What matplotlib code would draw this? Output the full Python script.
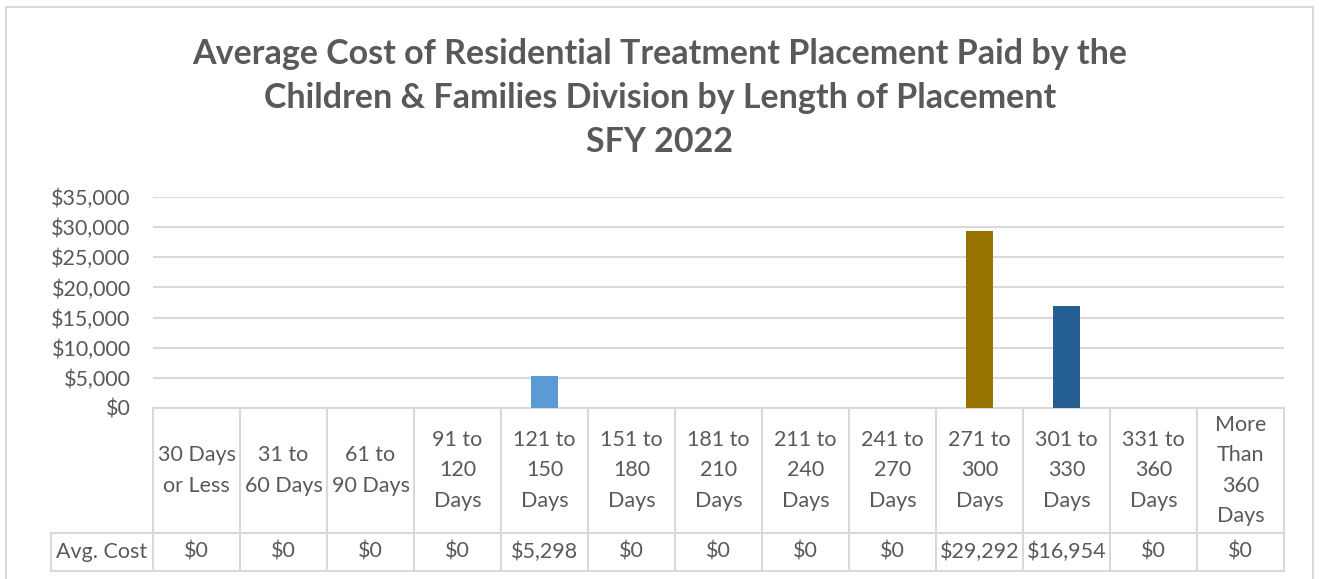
import numpy as np
import matplotlib
matplotlib.use('Agg')
import matplotlib.pyplot as plt
from matplotlib.patches import Rectangle

plt.rcParams['font.family'] = ['Lato', 'DejaVu Sans']

categories = ['30 Days\nor Less', '31 to\n60 Days', '61 to\n90 Days', '91 to\n120\nDays',
              '121 to\n150\nDays', '151 to\n180\nDays', '181 to\n210\nDays', '211 to\n240\nDays',
              '241 to\n270\nDays', '271 to\n300\nDays', '301 to\n330\nDays', '331 to\n360\nDays',
              'More\nThan\n360\nDays']
avg_cost = [0, 0, 0, 0, 5298, 0, 0, 0, 0, 29292, 16954, 0, 0]
bar_colors = ['#5B9BD5'] * 9 + ['#997300', '#255E91', '#5B9BD5', '#5B9BD5']
yticks = [0, 5000, 10000, 15000, 20000, 25000, 30000, 35000]

W, H = 1319, 579
fig = plt.figure(figsize=(W / 100, H / 100), dpi=100)
txt = '#595959'
grid = '#D9D9D9'
fs = 15.5

# outer chart border
fig.patches.append(Rectangle((6 / W, -0.01), (1313 - 6) / W, (H - 7) / H + 0.01,
                             transform=fig.transFigure, fill=False, edgecolor=grid, lw=1.5))

# plot area in pixels
x0, x1 = 153, 1284
y0, y1 = 408, 197
ax = fig.add_axes([x0 / W, (H - y0) / H, (x1 - x0) / W, (y0 - y1) / H])

x = np.arange(len(categories))
ax.bar(x, avg_cost, width=0.31, color=bar_colors, zorder=3)
ax.set_xlim(-0.5, len(categories) - 0.5)
ax.set_ylim(0, 35000)
ax.set_yticks(yticks)
ax.set_yticklabels(['${:,.0f}'.format(v) for v in yticks], color=txt, fontsize=fs)
ax.tick_params(axis='y', length=0, pad=16)
ax.set_xticks([])
for s in ax.spines.values():
    s.set_visible(False)
ax.yaxis.grid(True, color=grid, lw=1.5, zorder=0)
ax.set_axisbelow(True)

# data table under the axis
ph = y0 - y1
r_hdr = -(533 - 408) / ph
r_val = -(571 - 408) / ph
left = -0.5 - (x0 - 51) / 87.0
tr = ax.get_xaxis_transform()
lk = dict(color=grid, lw=1.5, clip_on=False, transform=tr)
ax.plot([-0.5, len(categories) - 0.5], [0, 0], **lk)
ax.plot([left, len(categories) - 0.5], [r_hdr, r_hdr], **lk)
ax.plot([left, len(categories) - 0.5], [r_val, r_val], **lk)
ax.plot([left, left], [r_hdr, r_val], **lk)
for b in np.arange(len(categories) + 1) - 0.5:
    ax.plot([b, b], [0, r_val], **lk)

for i, (lab, v) in enumerate(zip(categories, avg_cost)):
    ax.text(i, r_hdr / 2, lab, transform=tr, ha='center', va='center', color=txt,
            fontsize=fs, linespacing=1.63, clip_on=False)
    ax.text(i, (r_hdr + r_val) / 2, '${:,.0f}'.format(v), transform=tr, ha='center',
            va='center', color=txt, fontsize=fs, clip_on=False)
ax.text((left - 0.5) / 2, (r_hdr + r_val) / 2, 'Avg. Cost', transform=tr, ha='center',
        va='center', color=txt, fontsize=fs, clip_on=False)

fig.text(660 / W, 1 - 98 / H,
         'Average Cost of Residential Treatment Placement Paid by the\n'
         'Children & Families Division by Length of Placement\nSFY 2022',
         ha='center', va='center', fontsize=24.5, fontweight='bold', color=txt,
         linespacing=1.48)

fig.savefig('out.png', dpi=100)
